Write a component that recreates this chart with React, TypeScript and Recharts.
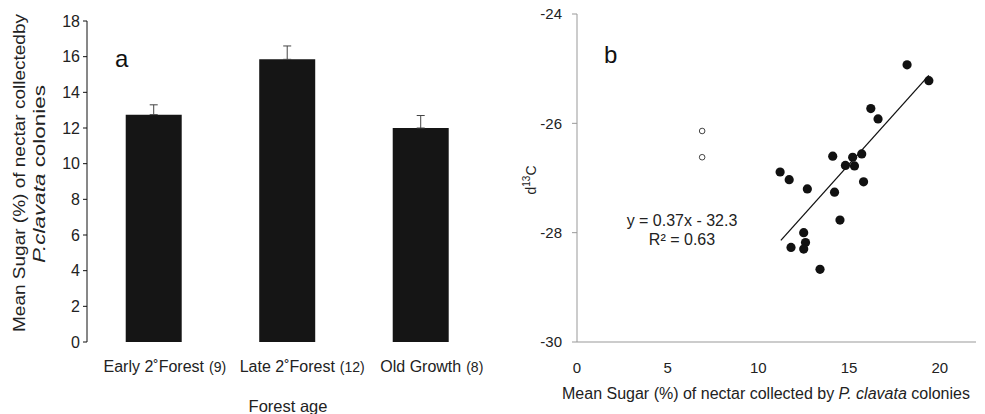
import React from 'react';
import {
  BarChart,
  Bar,
  XAxis,
  YAxis,
  ErrorBar,
  ScatterChart,
  Scatter,
  ReferenceLine,
} from 'recharts';

// ---------- Panel a data ----------
const forestCategories = ['Early 2˚Forest', 'Late 2˚Forest', 'Old Growth'];
const forestSampleSizes = ['(9)', '(12)', '(8)'];
const meanSugar = [12.75, 15.85, 12.0];
const sugarSE = [0.55, 0.75, 0.7];
const barYTicks = [0, 2, 4, 6, 8, 10, 12, 14, 16, 18];

// ---------- Panel b data ----------
const sugarSolid = [18.2, 19.4, 16.2, 16.6, 14.1, 15.2, 15.7, 14.8, 15.3, 11.2, 11.7, 15.8, 12.7, 14.2, 14.5, 12.5, 12.6, 11.8, 12.5, 13.4];
const d13CSolid = [-24.93, -25.22, -25.73, -25.92, -26.6, -26.62, -26.56, -26.77, -26.78, -26.89, -27.03, -27.07, -27.2, -27.26, -27.77, -28.0, -28.18, -28.27, -28.3, -28.67];
const sugarOpen = [6.9, 6.9];
const d13COpen = [-26.14, -26.62];
const scatterXTicks = [0, 5, 10, 15, 20];
const scatterYTicks = [-30, -28, -26, -24];
const trendSlope = 0.37;
const trendIntercept = -32.3;
const trendXRange = [11.24, 19.4];

const barData = forestCategories.map((c, i) => ({
  name: c,
  value: meanSugar[i],
  err: [0, sugarSE[i]],
}));
const solidData = sugarSolid.map((x, i) => ({ x, y: d13CSolid[i] }));
const openData = sugarOpen.map((x, i) => ({ x, y: d13COpen[i] }));
const trendSegment = trendXRange.map((x) => ({ x, y: trendSlope * x + trendIntercept }));

const FONT = '"Liberation Sans", Arial, Helvetica, sans-serif';

let measureCtx: CanvasRenderingContext2D | null = null;
function textWidth(s: string, size: number): number {
  if (typeof document === 'undefined') return s.length * size * 0.5;
  if (!measureCtx) measureCtx = document.createElement('canvas').getContext('2d');
  if (!measureCtx) return s.length * size * 0.5;
  measureCtx.font = `${size}px "Liberation Sans", Arial, sans-serif`;
  return measureCtx.measureText(s).width;
}

const ForestTick = (props: any) => {
  const { x, y, payload } = props;
  const idx = forestCategories.indexOf(payload.value);
  const half = textWidth(payload.value, 16) / 2;
  return (
    <g>
      <text x={x} y={y} dy={22} textAnchor="middle" fontSize={16} fill="#222" fontFamily={FONT}>
        {payload.value}
      </text>
      <text x={x + half + 5} y={y} dy={22} textAnchor="start" fontSize={14} fill="#222" fontFamily={FONT}>
        {forestSampleSizes[idx]}
      </text>
    </g>
  );
};

const SolidDot = (props: any) => <circle cx={props.cx} cy={props.cy} r={4.6} fill="#111" />;
const OpenDot = (props: any) => (
  <circle cx={props.cx} cy={props.cy} r={2.8} fill="#fff" stroke="#444" strokeWidth={1} />
);

export default function App() {
  return (
    <div style={{ position: 'absolute', left: 0, top: 0, width: 985, height: 414, background: '#fff', fontFamily: FONT }}>
      <div style={{ position: 'absolute', left: 0, top: 0 }}>
        <BarChart
          width={500}
          height={414}
          data={barData}
          margin={{ top: 21, right: 12.5, bottom: 32, left: 0 }}
          barCategoryGap="29%"
        >
          <XAxis
            dataKey="name"
            axisLine={false}
            tickLine={false}
            height={40}
            tick={<ForestTick />}
            interval={0}
          />
          <YAxis
            width={87}
            domain={[0, 18]}
            ticks={barYTicks}
            interval={0}
            tickSize={4}
            tickMargin={3}
            stroke="#111"
            tick={{ fontSize: 16, fill: '#222', fontFamily: FONT }}
          />
          <Bar dataKey="value" fill="#151515" isAnimationActive={false}>
            <ErrorBar dataKey="err" width={4} stroke="#444" strokeWidth={1} direction="y" />
          </Bar>
        </BarChart>
      </div>
      <div style={{ position: 'absolute', left: 500, top: 0 }}>
        <ScatterChart width={485} height={414} margin={{ top: 14, right: 9, bottom: 42, left: 0 }}>
          <XAxis
            type="number"
            dataKey="x"
            domain={[0, 22]}
            ticks={scatterXTicks}
            interval={0}
            tickLine={false}
            stroke="#999"
            height={30}
            tickMargin={14}
            tick={{ fontSize: 15, fill: '#222', fontFamily: FONT }}
          />
          <YAxis
            type="number"
            dataKey="y"
            domain={[-30, -24]}
            ticks={scatterYTicks}
            interval={0}
            width={77}
            tickSize={5}
            tickMargin={10}
            stroke="#999"
            tick={{ fontSize: 15, fill: '#222', fontFamily: FONT }}
          />
          <ReferenceLine
            segment={trendSegment}
            stroke="#111"
            strokeWidth={1.3}
          />
          <Scatter data={openData} shape={<OpenDot />} isAnimationActive={false} />
          <Scatter data={solidData} shape={<SolidDot />} isAnimationActive={false} />
        </ScatterChart>
      </div>
      <svg
        width={985}
        height={414}
        style={{ position: 'absolute', left: 0, top: 0, pointerEvents: 'none' }}
        fontFamily={FONT}
      >
        {/* Panel a titles */}
        <g transform="translate(25,173) rotate(-90)">
          <text x={0} y={0} textAnchor="middle" fontSize={16} fill="#222" textLength={318} lengthAdjust="spacingAndGlyphs">
            Mean Sugar (%) of nectar collectedby
          </text>
        </g>
        <g transform="translate(45,174) rotate(-90)">
          <text x={0} y={0} textAnchor="middle" fontSize={16} fill="#222" textLength={178} lengthAdjust="spacingAndGlyphs">
            <tspan fontStyle="italic">P.clavata</tspan> colonies
          </text>
        </g>
        <text x={115} y={67} fontSize={24} fill="#111">a</text>
        <text x={288} y={412} textAnchor="middle" fontSize={16.5} fill="#222">Forest age</text>

        {/* Panel b titles */}
        <text x={604} y={63} fontSize={24} fill="#111">b</text>
        <g transform="translate(536,180) rotate(-90)">
          <text x={0} y={0} textAnchor="middle" fontSize={14} fill="#222">
            d<tspan fontSize={10} dy={-6}>13</tspan><tspan dy={6}>C</tspan>
          </text>
        </g>
        <text x={766} y={399} textAnchor="middle" fontSize={16} fill="#222">
          Mean Sugar (%) of nectar collected by <tspan fontStyle="italic">P. clavata</tspan> colonies
        </text>
        <text x={682} y={226} textAnchor="middle" fontSize={16} fill="#222">y = 0.37x - 32.3</text>
        <text x={682} y={245} textAnchor="middle" fontSize={16} fill="#222">R² = 0.63</text>
      </svg>
    </div>
  );
}
